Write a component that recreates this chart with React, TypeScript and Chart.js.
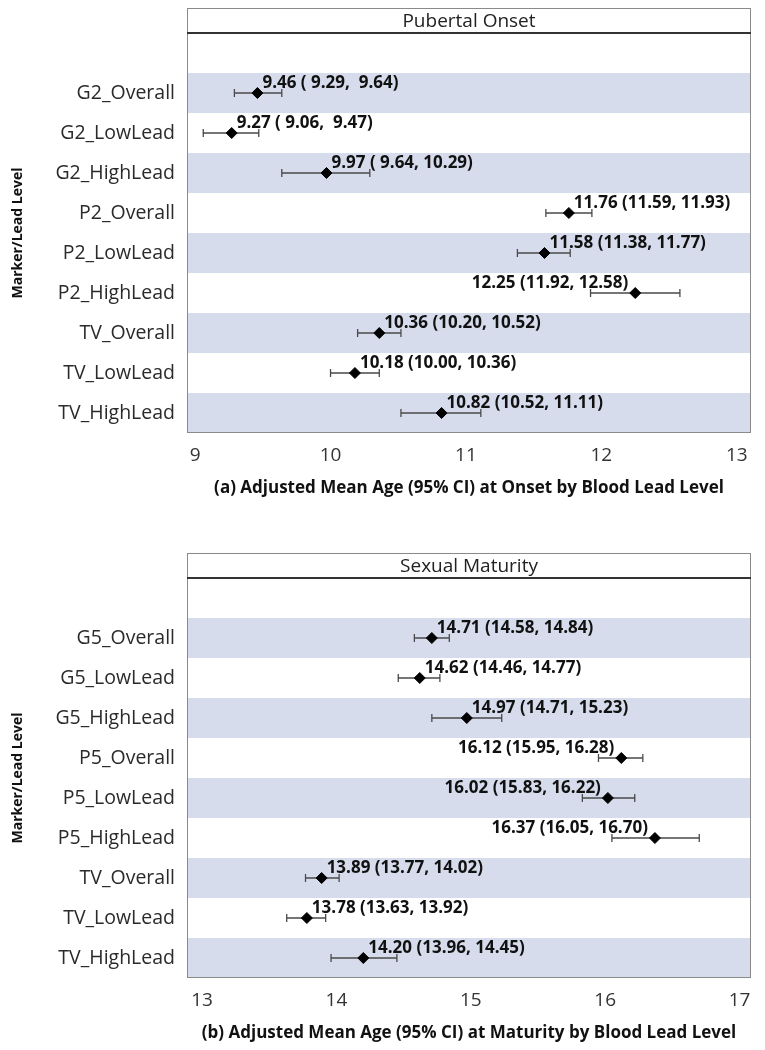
import React, { useEffect, useRef } from 'react';
import { Chart, registerables } from 'chart.js';

Chart.register(...registerables);

// ---------- data ----------
const onsetCategories = ['G2_Overall', 'G2_LowLead', 'G2_HighLead', 'P2_Overall', 'P2_LowLead', 'P2_HighLead', 'TV_Overall', 'TV_LowLead', 'TV_HighLead'];
const onsetMean = [9.46, 9.27, 9.97, 11.76, 11.58, 12.25, 10.36, 10.18, 10.82];
const onsetLower = [9.29, 9.06, 9.64, 11.59, 11.38, 11.92, 10.20, 10.00, 10.52];
const onsetUpper = [9.64, 9.47, 10.29, 11.93, 11.77, 12.58, 10.52, 10.36, 11.11];
const onsetTicks = [9, 10, 11, 12, 13];

const maturityCategories = ['G5_Overall', 'G5_LowLead', 'G5_HighLead', 'P5_Overall', 'P5_LowLead', 'P5_HighLead', 'TV_Overall', 'TV_LowLead', 'TV_HighLead'];
const maturityMean = [14.71, 14.62, 14.97, 16.12, 16.02, 16.37, 13.89, 13.78, 14.20];
const maturityLower = [14.58, 14.46, 14.71, 15.95, 15.83, 16.05, 13.77, 13.63, 13.96];
const maturityUpper = [14.84, 14.77, 15.23, 16.28, 16.22, 16.70, 14.02, 13.92, 14.45];
const maturityTicks = [13, 14, 15, 16, 17];

const FONT = "'Open Sans', 'Noto Sans', sans-serif";
const BAND = '#d6dcec';

type PanelCfg = {
  categories: string[];
  mean: number[];
  lower: number[];
  upper: number[];
  ticks: number[];
  header: string;
  xTitle: string;
  xMin: number;
  xMax: number;
  padTop: number;
  titlePadBottom: number;
  height: number;
};

const pad5 = (v: number) => (v < 10 ? ' ' : '') + v.toFixed(2);

function makeChart(canvas: HTMLCanvasElement, cfg: PanelCfg) {
  const HEADER_H = 25;
  const forestPlugin = {
    id: 'forest',
    beforeDatasetsDraw(chart: any) {
      const { ctx, chartArea } = chart;
      const xs = chart.scales.x;
      const ys = chart.scales.y;
      ctx.save();
      // bands
      ctx.fillStyle = BAND;
      cfg.categories.forEach((_, i) => {
        if (i % 2 === 0) {
          const t = ys.getPixelForValue(i - 0.5);
          const b = ys.getPixelForValue(i + 0.5);
          ctx.fillRect(chartArea.left, Math.min(t, b), chartArea.right - chartArea.left, Math.abs(b - t));
        }
      });
      // error bars
      ctx.strokeStyle = '#4a4a4a';
      ctx.lineWidth = 1.3;
      cfg.categories.forEach((_, i) => {
        const y = ys.getPixelForValue(i);
        const x1 = xs.getPixelForValue(cfg.lower[i]);
        const x2 = xs.getPixelForValue(cfg.upper[i]);
        ctx.beginPath();
        ctx.moveTo(x1, y);
        ctx.lineTo(x2, y);
        ctx.moveTo(x1, y - 4);
        ctx.lineTo(x1, y + 4);
        ctx.moveTo(x2, y - 4);
        ctx.lineTo(x2, y + 4);
        ctx.stroke();
      });
      ctx.restore();
    },
    afterDatasetsDraw(chart: any) {
      const { ctx, chartArea } = chart;
      const xs = chart.scales.x;
      const ys = chart.scales.y;
      ctx.save();
      ctx.font = `bold 17px ${FONT}`;
      ctx.fillStyle = '#111';
      ctx.textBaseline = 'alphabetic';
      cfg.categories.forEach((_, i) => {
        const x = xs.getPixelForValue(cfg.mean[i]);
        const y = ys.getPixelForValue(i);
        const txt = `${cfg.mean[i].toFixed(2)} (${pad5(cfg.lower[i])}, ${pad5(cfg.upper[i])})`;
        const w = ctx.measureText(txt).width;
        if (x + 5 + w > chartArea.right) {
          ctx.textAlign = 'right';
          ctx.fillText(txt, x - 7, y - 5.5);
        } else {
          ctx.textAlign = 'left';
          ctx.fillText(txt, x + 5, y - 5.5);
        }
      });
      ctx.restore();
    },
    afterDraw(chart: any) {
      const { ctx, chartArea } = chart;
      const top = chartArea.top - HEADER_H;
      ctx.save();
      ctx.fillStyle = '#fff';
      ctx.fillRect(chartArea.left, top, chartArea.right - chartArea.left, HEADER_H);
      ctx.strokeStyle = '#8a8a8a';
      ctx.lineWidth = 1;
      ctx.strokeRect(chartArea.left + 0.5, top + 0.5, chartArea.right - chartArea.left - 1, chartArea.bottom - top - 1);
      ctx.strokeStyle = '#333';
      ctx.lineWidth = 2;
      ctx.beginPath();
      ctx.moveTo(chartArea.left, chartArea.top);
      ctx.lineTo(chartArea.right, chartArea.top);
      ctx.stroke();
      ctx.font = `19px ${FONT}`;
      ctx.fillStyle = '#222';
      ctx.textAlign = 'center';
      ctx.textBaseline = 'middle';
      ctx.fillText(cfg.header, (chartArea.left + chartArea.right) / 2, top + HEADER_H / 2 + 1);
      ctx.restore();
    },
  };

  return new Chart(canvas, {
    type: 'scatter',
    data: {
      datasets: [
        {
          data: cfg.mean.map((m, i) => ({ x: m, y: i })),
          pointStyle: 'rectRot',
          pointRadius: 5.5,
          pointHoverRadius: 5.5,
          backgroundColor: '#000',
          borderColor: '#000',
          borderWidth: 1,
        },
      ],
    },
    options: {
      animation: false,
      responsive: false,
      events: [],
      layout: { padding: { left: 0, right: 14, top: cfg.padTop, bottom: 0 } },
      plugins: { legend: { display: false }, tooltip: { enabled: false } },
      scales: {
        x: {
          type: 'linear',
          min: cfg.xMin,
          max: cfg.xMax,
          grid: { display: false, drawTicks: false },
          border: { display: false },
          afterBuildTicks: (s: any) => {
            s.ticks = cfg.ticks.map((v) => ({ value: v }));
          },
          afterFit: (s: any) => {
            s.height = cfg.height - cfg.padTop - 400;
          },
          ticks: {
            padding: 11,
            color: '#333',
            font: { family: FONT, size: 19 },
            autoSkip: false,
            maxRotation: 0,
            callback: (v: any) => String(v),
          },
          title: {
            display: true,
            text: cfg.xTitle,
            color: '#111',
            font: { family: FONT, size: 17, weight: 'bold' },
            padding: { top: 0, bottom: cfg.titlePadBottom },
          },
        },
        y: {
          type: 'linear',
          reverse: true,
          min: -1.5,
          max: 8.5,
          grid: { display: false, drawTicks: false },
          border: { display: false },
          afterBuildTicks: (s: any) => {
            s.ticks = cfg.categories.map((_, i) => ({ value: i }));
          },
          afterFit: (s: any) => {
            s.width = 187;
          },
          ticks: {
            padding: 12,
            color: '#2a2a2a',
            font: { family: FONT, size: 19.5 },
            autoSkip: false,
            callback: (v: any) => cfg.categories[v] ?? '',
          },
          title: {
            display: true,
            text: 'Marker/Lead Level',
            color: '#111',
            font: { family: FONT, size: 14, weight: 'bold' },
            padding: { top: 10, bottom: 0 },
          },
        },
      },
    },
    plugins: [forestPlugin],
  } as any);
}

const panelA: PanelCfg = {
  categories: onsetCategories,
  mean: onsetMean,
  lower: onsetLower,
  upper: onsetUpper,
  ticks: onsetTicks,
  header: 'Pubertal Onset',
  xTitle: '(a) Adjusted Mean Age (95% CI) at Onset by Blood Lead Level',
  xMin: 8.94,
  xMax: 13.105,
  padTop: 33,
  titlePadBottom: 27,
  height: 525,
};

const panelB: PanelCfg = {
  categories: maturityCategories,
  mean: maturityMean,
  lower: maturityLower,
  upper: maturityUpper,
  ticks: maturityTicks,
  header: 'Sexual Maturity',
  xTitle: '(b) Adjusted Mean Age (95% CI) at Maturity by Blood Lead Level',
  xMin: 12.888,
  xMax: 17.085,
  padTop: 53,
  titlePadBottom: 7,
  height: 525,
};

function Panel({ cfg, top }: { cfg: PanelCfg; top: number }) {
  const ref = useRef<HTMLCanvasElement | null>(null);
  useEffect(() => {
    if (!ref.current) return;
    const chart = makeChart(ref.current, cfg);
    return () => chart.destroy();
  }, [cfg]);
  return (
    <canvas
      ref={ref}
      width={765}
      height={cfg.height}
      style={{ position: 'absolute', left: 0, top, width: 765, height: cfg.height }}
    />
  );
}

export default function App() {
  return (
    <div style={{ position: 'absolute', left: 0, top: 0, width: 765, height: 1050, background: '#fff', overflow: 'hidden' }}>
      <Panel cfg={panelA} top={0} />
      <Panel cfg={panelB} top={525} />
    </div>
  );
}
